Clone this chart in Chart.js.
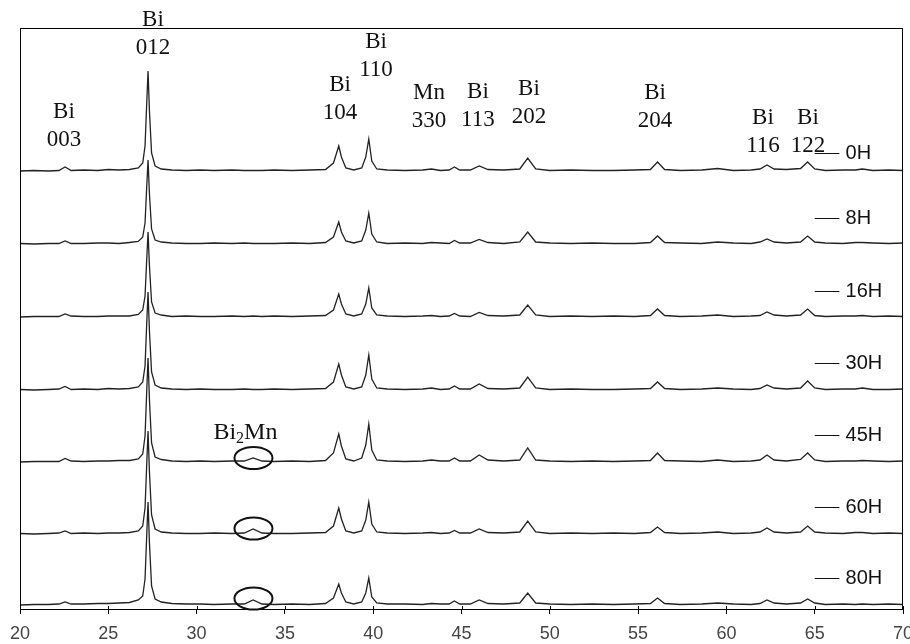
<!DOCTYPE html>
<html>
<head>
<meta charset="utf-8">
<script src="https://cdn.jsdelivr.net/npm/chart.js@4.4.1/dist/chart.umd.min.js"></script>
<style>
  html, body { margin: 0; padding: 0; background: #fff; }
  canvas { display: block; }
</style>
</head>
<body>
<canvas id="xrd" width="910" height="644"></canvas>
<script>
// 2 theta (deg)
const angles = [20.0, 20.8, 21.6, 22.2, 22.55, 22.9, 23.6, 24.4, 25.0, 25.6,
  26.2, 26.7, 26.95, 27.08, 27.17, 27.25, 27.33, 27.45, 27.65, 28.0,
  28.6, 29.4, 30.2, 31.0, 32.0, 32.7, 33.2, 33.7, 34.4, 35.4,
  36.4, 37.3, 37.75, 38.05, 38.2, 38.45, 38.9, 39.35, 39.58, 39.75,
  39.92, 40.2, 40.8, 41.8, 42.8, 43.3, 43.8, 44.3, 44.6, 44.9,
  45.5, 46.0, 46.5, 47.4, 48.3, 48.75, 49.2, 50.0, 51.2, 52.4,
  53.6, 54.8, 55.7, 56.1, 56.5, 57.4, 58.6, 59.5, 60.4, 61.4,
  61.9, 62.3, 62.7, 63.4, 64.2, 64.6, 65.0, 65.6, 66.6, 67.3,
  67.7, 68.3, 69.2, 70.0];

const timeLabels = ['0H', '8H', '16H', '30H', '45H', '60H', '80H'];

// intensity above each trace's own baseline
const i0H = [0,0.5,0,0.5,4,0.5,1,0.5,1.5,1,
  1.5,3,8,25,65,100,60,18,5,2,
  1,0.5,1,0.5,1,0.5,0.5,0.5,1,0.5,
  1,1.5,8,25,14,3,1,3,14,32,
  10,2,1,0.5,1,2,0.5,1,4,1,
  1,5,1.5,1,2,13,2,0.5,1,0.5,
  0.5,1,1.5,9,1.5,0.5,1,2.5,0.5,1,
  2,6,2,1.5,2.5,9,2,0.5,1,1,
  2,0.5,1,0.5];
const i8H = [0.5,0,0.5,0.5,3,0.5,0.5,1,1,0.5,
  1.5,2.5,7,21,55,84,50,15,4,2,
  1,0.5,0.5,1,0.5,1,0.5,0.5,0.5,1,
  0.5,1.5,7,22,12,3,1,3,14,31,
  10,2,0.5,1,0.5,1.5,1,0.5,3.5,1,
  1,4.5,1.5,0.5,2,12,2,1,0.5,1,
  0.5,0.5,1.5,8,1.5,1,0.5,2,1,0.5,
  2,5,2,1,2,8,2,1,0.5,1.5,
  1.5,1,0.5,1];
const i16H = [0,0.5,0.5,0.5,3,1,0.5,0.5,1,1,
  1,2.5,7,21,55,85,51,15,4,2,
  0.5,1,0.5,0.5,1,0.5,1,0.5,1,0.5,
  1,1.5,7,23,13,3,1,3,13,29,
  9,2,1,0.5,1,1.5,0.5,1,3.5,1,
  0.5,4.5,1.5,1,2,12,2,0.5,1,0.5,
  1,0.5,1.5,8,1.5,0.5,1,2,0.5,1,
  1.5,5,2,1,2,8,1.5,0.5,1,1,
  1.5,0.5,1,0.5];
const i30H = [0.5,0,0.5,1,3.5,0.5,1,0.5,1.5,1,
  1.5,3,8,24,64,98,59,18,5,2,
  1,0.5,1,0.5,0.5,1,0.5,0.5,1,0.5,
  1,1.5,8,26,15,3,1,3,15,35,
  11,2,1,0.5,1,2,0.5,1,4,1,
  1,6,1.5,1,2,13,2,0.5,1,0.5,
  0.5,1,1.5,8,1.5,0.5,1,2,1,0.5,
  1.5,5,2,1,2,9,2,0.5,1,1,
  2,0.5,0.5,1];
const i45H = [0,0.5,0.5,0.5,3.5,1,0.5,1,1,1.5,
  1.5,3,8,26,68,104,62,19,5,2.5,
  1,0.5,1,0.5,1,1,4,1,0.5,1,
  0.5,1.5,9,28,16,3,1,4,17,38,
  12,2,1,0.5,1,2,1,1,4,1,
  1,7,2,1,2,14,2,1,0.5,1,
  0.5,1,1.5,9,1.5,1,0.5,2,0.5,1,
  2,7,2,1,2.5,9,2,0.5,1,1,
  1.5,1,0.5,1];
const i60H = [0.5,0,0.5,1,3,0.5,1,0.5,1,1,
  1.5,3,8,26,67,103,62,19,5,2,
  1,0.5,0.5,1,0.5,1,5,1,0.5,0.5,
  1,1.5,8,26,15,3,1,3,14,32,
  10,2,1,0.5,1,1.5,0.5,1,3.5,1,
  1,5,1.5,1,2,13,2,0.5,1,0.5,
  1,0.5,1.5,7,1.5,0.5,1,2,0.5,1,
  2,6,2,1,2,8,2,1,0.5,1.5,
  1.5,0.5,1,0.5];
const i80H = [0,0.5,0.5,1,3,1,1,1.5,1.5,2,
  2.5,5,9,26,67,103,62,19,6,3,
  1.5,1,1,0.5,1,1,5,1,0.5,1,
  0.5,1.5,7,21,12,3,1,3,12,27,
  8,2,1,1,0.5,1.5,1,1,4,1,
  1,5,1.5,1,2,12,2,1,0.5,1,
  0.5,1,1.5,7,1.5,0.5,1,2,1,0.5,
  1.5,5,2,1,2,6,2,0.5,1,0.5,
  1,0.5,1,0.5];

const series = [i0H, i8H, i16H, i30H, i45H, i60H, i80H];

// vertical stacking of the traces
const offsets = [438, 365, 292, 219, 147, 75, 4];
const tagGap = [18, 26, 26, 27, 27, 27, 27];

const xTicks = [20, 25, 30, 35, 40, 45, 50, 55, 60, 65, 70];

// peak names: angle of label centre, y of first line
const peaks = [
  { top: 'Bi', hkl: '003', x: 22.49, y: 497 },
  { top: 'Bi', hkl: '012', x: 27.53, y: 589 },
  { top: 'Bi', hkl: '104', x: 38.12, y: 524 },
  { top: 'Bi', hkl: '110', x: 40.16, y: 567 },
  { top: 'Mn', hkl: '330', x: 43.16, y: 516 },
  { top: 'Bi', hkl: '113', x: 45.93, y: 517 },
  { top: 'Bi', hkl: '202', x: 48.82, y: 520 },
  { top: 'Bi', hkl: '204', x: 55.96, y: 516 },
  { top: 'Bi', hkl: '116', x: 62.07, y: 491 },
  { top: 'Bi', hkl: '122', x: 64.62, y: 491 }
];

// Bi2Mn marks: series index, height of ring centre over baseline
const bi2mnAngle = 33.22;
const bi2mnRings = [[4, 4], [5, 5.5], [6, 6.5]];

const serif = '"Liberation Serif", "Times New Roman", serif';
const sans = '"Liberation Sans", Arial, sans-serif';

const decor = {
  id: 'decor',
  afterDraw(chart) {
    const { ctx, chartArea: a, scales: { x, y } } = chart;
    ctx.save();

    // frame
    ctx.strokeStyle = '#000';
    ctx.lineWidth = 1;
    ctx.strokeRect(a.left + 0.5, a.top + 0.5, a.right - a.left - 1, a.bottom - a.top);

    // short inner part of ticks
    ctx.beginPath();
    xTicks.forEach(t => {
      const px = Math.round(x.getPixelForValue(t)) + 0.5;
      ctx.moveTo(px, a.bottom);
      ctx.lineTo(px, a.bottom - 3);
    });
    ctx.stroke();

    // peak names
    ctx.fillStyle = '#111';
    ctx.font = '23px ' + serif;
    ctx.textAlign = 'center';
    ctx.textBaseline = 'middle';
    peaks.forEach(p => {
      const px = x.getPixelForValue(p.x);
      const py = y.getPixelForValue(p.y);
      ctx.fillText(p.top, px, py);
      ctx.fillText(p.hkl, px, py + 28);
    });

    // Bi2Mn label
    ctx.textAlign = 'left';
    ctx.font = '24px ' + serif;
    let lx = x.getPixelForValue(30.95);
    const ly = y.getPixelForValue(176);
    ctx.fillText('Bi', lx, ly);
    lx += ctx.measureText('Bi').width;
    ctx.font = '16px ' + serif;
    ctx.fillText('2', lx, ly + 6);
    lx += ctx.measureText('2').width;
    ctx.font = '24px ' + serif;
    ctx.fillText('Mn', lx, ly);

    // rings round the Bi2Mn peaks
    ctx.lineWidth = 2;
    ctx.strokeStyle = '#111';
    bi2mnRings.forEach(([s, h]) => {
      const cx = x.getPixelForValue(bi2mnAngle);
      const cy = y.getPixelForValue(offsets[s] + h);
      ctx.beginPath();
      ctx.ellipse(cx, cy, 19, 11, 0, 0, Math.PI * 2);
      ctx.stroke();
    });

    // time tags
    ctx.lineWidth = 1;
    ctx.font = '20px ' + sans;
    ctx.textBaseline = 'middle';
    timeLabels.forEach((t, i) => {
      const ty = Math.round(y.getPixelForValue(offsets[i] + tagGap[i])) + 0.5;
      const x1 = x.getPixelForValue(65.0);
      const x2 = x.getPixelForValue(66.4);
      ctx.beginPath();
      ctx.moveTo(x1, ty);
      ctx.lineTo(x2, ty);
      ctx.stroke();
      ctx.fillText(t, x.getPixelForValue(66.75), ty);
    });

    ctx.restore();
  }
};

new Chart(document.getElementById('xrd'), {
  type: 'line',
  data: {
    datasets: series.map((vals, i) => ({
      label: timeLabels[i],
      data: angles.map((a, j) => ({ x: a, y: vals[j] + offsets[i] })),
      borderColor: '#222',
      borderWidth: 1.3,
      pointRadius: 0,
      tension: 0,
      fill: false
    }))
  },
  options: {
    responsive: false,
    animation: false,
    layout: { padding: { top: 28, left: 20, right: 7, bottom: 0 } },
    plugins: { legend: { display: false }, tooltip: { enabled: false } },
    scales: {
      x: {
        type: 'linear',
        min: 20,
        max: 70,
        afterBuildTicks: s => { s.ticks = xTicks.map(v => ({ value: v })); },
        ticks: { color: '#444', font: { family: sans, size: 18 }, padding: 9 },
        grid: { drawOnChartArea: false, tickLength: 5, color: '#000' },
        border: { color: '#000' },
        afterFit: s => { s.height = 35; s.paddingLeft = 0; s.paddingRight = 0; }
      },
      y: { display: false, min: 0, max: 581 }
    }
  },
  plugins: [decor]
});
</script>
</body>
</html>
